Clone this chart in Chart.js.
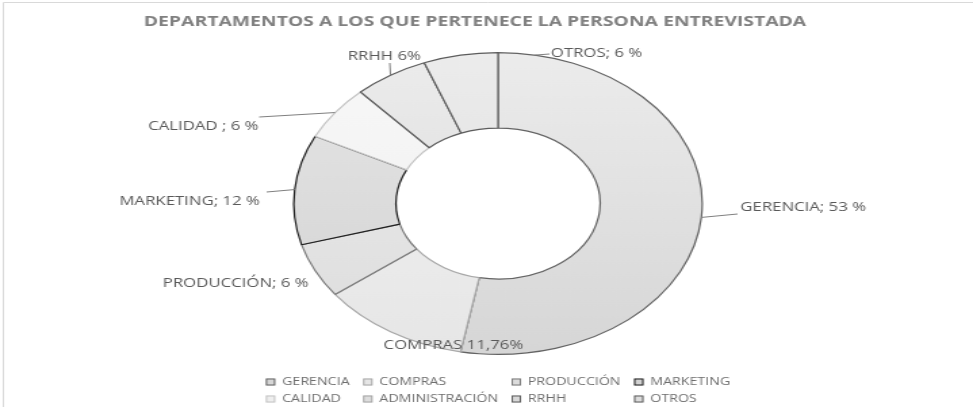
<!DOCTYPE html>
<html>
<head>
<meta charset="utf-8">
<script src="https://cdn.jsdelivr.net/npm/chart.js@4.4.1/dist/chart.umd.min.js"></script>
<style>
  html, body { margin: 0; padding: 0; background: #fff; }
  #wrap { width: 973px; height: 407px; overflow: hidden; }
  /* the original picture is stretched sideways, so the canvas is too */
  #myChart { width: 719px; height: 407px; transform: scaleX(1.3533); transform-origin: 0 0; }
</style>
</head>
<body>
<div id="wrap"><canvas id="myChart" width="719" height="407"></canvas></div>
<script>
var departamentos = ['GERENCIA', 'COMPRAS', 'PRODUCCIÓN', 'MARKETING', 'CALIDAD', 'ADMINISTRACIÓN', 'RRHH', 'OTROS']
var personas = [9, 2, 1, 2, 1, 0, 1, 1]
var etiquetas = ['GERENCIA; 53 %', 'COMPRAS 11,76%', 'PRODUCCIÓN; 6 %', 'MARKETING; 12 %', 'CALIDAD ; 6 %', '', 'RRHH 6%', 'OTROS; 6 %']
var titulo = 'DEPARTAMENTOS A LOS QUE PERTENECE LA PERSONA ENTREVISTADA'

// fill gradients (top, bottom) and borders per slice
var grisArriba = ['#ececec', '#f4f4f4', '#eeeeee', '#e6e6e6', '#f8f8f8', '#eeeeee', '#ececec', '#ececec']
var grisAbajo = ['#d6d6d6', '#e6e6e6', '#dcdcdc', '#d2d2d2', '#eeeeee', '#dddddd', '#d8d8d8', '#dcdcdc']
var bordes = ['#646464', '#a8a8a8', '#7a7a7a', '#1e1e1e', '#c4c4c4', '#a6a6a6', '#5c5c5c', '#5c5c5c']

// where each data label sits (canvas px, before the sideways stretch)
var posEtiquetas = [
    {x: 547, y: 207, align: 'left', linea: [545, 214]},
    {x: 335, y: 345, align: 'center'},
    {x: 228, y: 283, align: 'right'},
    {x: 192, y: 201, align: 'right', linea: [197, 192]},
    {x: 191, y: 126, align: 'right', linea: [191.5, 117]},
    null,
    {x: 284, y: 56, align: 'center', linea: [288, 63]},
    {x: 407, y: 53, align: 'left', linea: [406, 54], angulo: -79.6}
]

var etiquetasPlugin = {
    id: 'etiquetas',
    afterDatasetsDraw: function (chart) {
        var ctx = chart.ctx
        var arcs = chart.getDatasetMeta(0).data
        ctx.save()
        ctx.font = '12.4px "Open Sans"'
        ctx.fillStyle = '#595959'
        ctx.textBaseline = 'middle'
        arcs.forEach(function (arc, i) {
            var p = posEtiquetas[i]
            if (!p || !etiquetas[i]) return
            if (p.linea) {
                var a = arc.getProps(['x', 'y', 'startAngle', 'endAngle', 'outerRadius'])
                var ang = p.angulo !== undefined ? p.angulo * Math.PI / 180 : (a.startAngle + a.endAngle) / 2
                ctx.beginPath()
                ctx.strokeStyle = '#7f7f7f'
                ctx.lineWidth = 1
                ctx.moveTo(a.x + Math.cos(ang) * a.outerRadius, a.y + Math.sin(ang) * a.outerRadius)
                ctx.lineTo(p.linea[0], p.linea[1])
                ctx.stroke()
            }
            ctx.textAlign = p.align
            ctx.fillText(etiquetas[i], p.x, p.y)
        })
        ctx.restore()
    }
}

var extrasPlugin = {
    id: 'extras',
    afterDraw: function (chart) {
        var ctx = chart.ctx
        var area = chart.chartArea
        ctx.save()

        // frame
        ctx.strokeStyle = '#d9d9d9'
        ctx.lineWidth = 1
        ctx.beginPath()
        ctx.moveTo(2.5, chart.height)
        ctx.lineTo(2.5, 2.5)
        ctx.lineTo(chart.width, 2.5)
        ctx.stroke()

        // title
        ctx.font = 'bold 14.3px "Open Sans"'
        ctx.fillStyle = '#808080'
        ctx.textAlign = 'center'
        ctx.textBaseline = 'middle'
        ctx.fillText(titulo, 351, 22)

        // legend in a 4 column grid
        ctx.font = '10.5px "Open Sans"'
        ctx.textAlign = 'left'
        var cols = 4, pad = 10, caja = 7
        var anchos = []
        for (var c = 0; c < cols; c++) {
            var m = 0
            for (var r = 0; r * cols + c < departamentos.length; r++) {
                m = Math.max(m, ctx.measureText(departamentos[r * cols + c]).width)
            }
            anchos.push(caja + 5 + m)
        }
        var total = anchos.reduce(function (a, b) { return a + b }, 0) + pad * (cols - 1)
        var x0 = (area.left + area.right) / 2 - total / 2
        departamentos.forEach(function (d, i) {
            var c = i % cols
            var r = Math.floor(i / cols)
            var x = x0
            for (var k = 0; k < c; k++) x += anchos[k] + pad
            var y = 382 + r * 17
            ctx.fillStyle = grisAbajo[i]
            ctx.fillRect(x, y - 3.5, caja, caja)
            ctx.strokeStyle = bordes[i]
            ctx.strokeRect(x + 0.5, y - 3, caja - 1, caja - 1)
            ctx.fillStyle = '#6e6e6e'
            ctx.fillText(d, x + caja + 5, y)
        })
        ctx.restore()
    }
}

var myChart = document.getElementById('myChart').getContext('2d')

var chart = new Chart(myChart, {
    type: 'doughnut',
    data: {
        labels: departamentos,
        datasets: [
            {
                data: personas,
                backgroundColor: function (context) {
                    var area = context.chart.chartArea
                    if (!area) return grisArriba[context.dataIndex]
                    var g = context.chart.ctx.createLinearGradient(0, area.top, 0, area.bottom)
                    g.addColorStop(0, grisArriba[context.dataIndex])
                    g.addColorStop(1, grisAbajo[context.dataIndex])
                    return g
                },
                borderColor: bordes,
                borderWidth: 1.2
            }
        ]
    },
    options: {
        responsive: false,
        animation: false,
        cutout: '50%',
        layout: {
            padding: {left: 216.5, right: 199.5, top: 52, bottom: 52}
        },
        plugins: {
            legend: {display: false},
            title: {display: false},
            tooltip: {enabled: false}
        }
    },
    plugins: [etiquetasPlugin, extrasPlugin]
})
</script>
</body>
</html>
